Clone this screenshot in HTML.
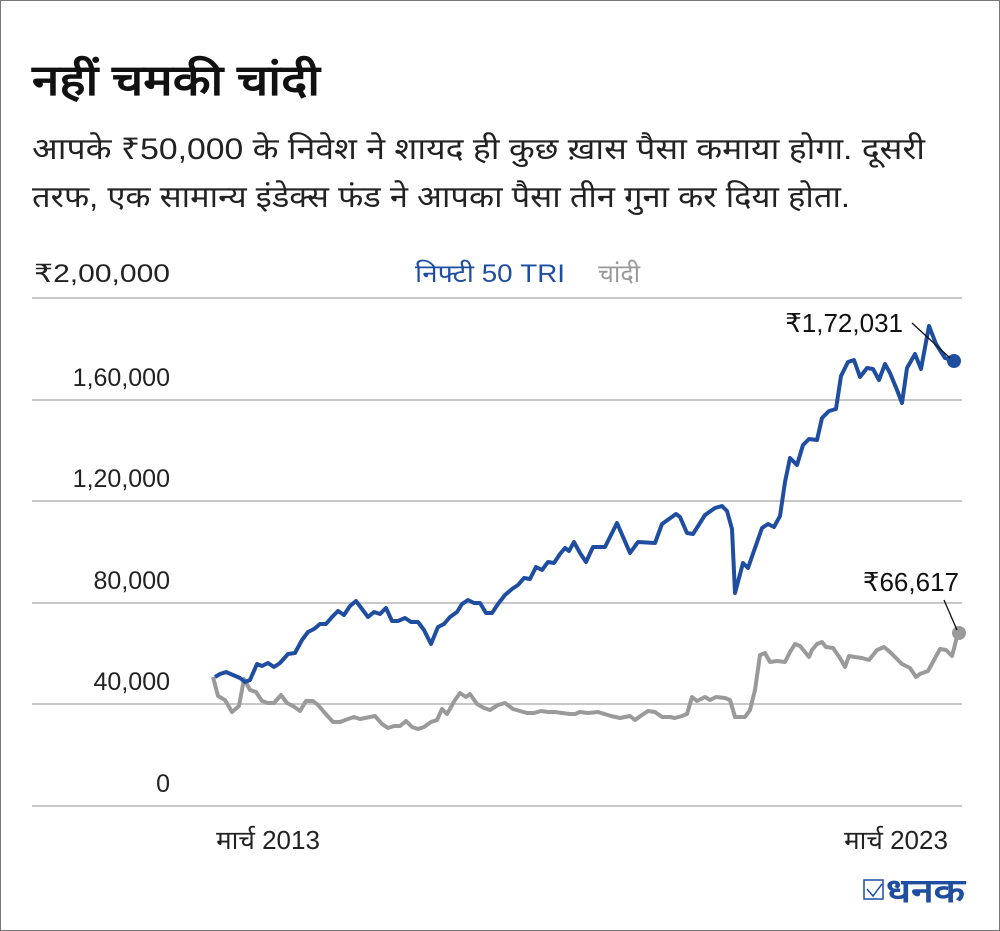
<!DOCTYPE html>
<html><head><meta charset="utf-8"><style>
body{margin:0;background:#fff;}
.w{position:relative;width:998px;height:929px;border:1px solid #777;background:#fff;font-family:"Liberation Sans","Noto Sans CJK SC",sans-serif;overflow:hidden;}
</style></head><body><div class="w">
<svg width="1000" height="931" style="position:absolute;left:-1px;top:-1px" font-family="Liberation Sans, sans-serif">
<text x="32" y="95" font-size="43" font-weight="bold" fill="#111" textLength="288" lengthAdjust="spacingAndGlyphs">नहीं चमकी चांदी</text>
<text x="32" y="159" font-size="30" fill="#222" textLength="893" lengthAdjust="spacingAndGlyphs">आपके ₹50,000 के निवेश ने शायद ही कुछ ख़ास पैसा कमाया होगा. दूसरी</text>
<text x="32" y="207" font-size="30" fill="#222" textLength="818" lengthAdjust="spacingAndGlyphs">तरफ, एक सामान्य इंडेक्स फंड ने आपका पैसा तीन गुना कर दिया होता.</text>
<g stroke="#c8c8c8" stroke-width="2">
<line x1="32" y1="298" x2="962" y2="298"/><line x1="32" y1="400" x2="962" y2="400"/>
<line x1="32" y1="501" x2="962" y2="501"/><line x1="32" y1="603" x2="962" y2="603"/>
<line x1="32" y1="704" x2="962" y2="704"/><line x1="32" y1="806" x2="962" y2="806"/>
</g>
<g font-size="25" fill="#222" text-anchor="end">
<text x="170" y="282" textLength="136" lengthAdjust="spacingAndGlyphs">₹2,00,000</text><text x="170" y="386">1,60,000</text>
<text x="170" y="487">1,20,000</text><text x="170" y="589">80,000</text>
<text x="170" y="690">40,000</text><text x="170" y="792">0</text>
</g>
<text x="268" y="849" font-size="26" fill="#222" text-anchor="middle">मार्च 2013</text>
<text x="896" y="849" font-size="26" fill="#222" text-anchor="middle">मार्च 2023</text>
<text x="415" y="282" font-size="25" fill="#1f4ea1" textLength="150" lengthAdjust="spacingAndGlyphs">निफ्टी 50 TRI</text>
<text x="598" y="282" font-size="25" fill="#999">चांदी</text>
<polyline fill="none" stroke="#9a9a9a" stroke-width="4" stroke-linejoin="round" points="213,677 218,696 225,700 232,712 239,706 244,679 250,690 256,692 262,701 268,703 274,703 281,695 287,703 293,706 300,711 306,701 313,701 318,705 324,712 333,722 340,722 348,719 354,717 360,719 370,717 375,716 382,724 388,728 394,726 400,726 406,721 412,727 418,729 424,727 431,722 437,720 442,709 447,714 455,700 460,693 466,697 470,694 477,704 484,708 490,710 498,705 505,703 513,709 520,711 527,713 534,713 541,711 548,712 555,712 562,713 570,714 575,714 580,712 588,713 598,712 611,716 620,718 630,716 635,720 642,715 648,711 655,712 662,717 670,717 675,718 682,716 687,714 692,697 697,701 705,697 710,700 716,697 725,698 730,700 735,717 745,717 750,710 755,690 760,655 765,653 770,662 777,661 785,662 790,652 795,644 800,646 805,652 809,657 812,650 817,644 822,642 826,647 833,648 840,658 845,667 849,656 855,657 862,658 869,660 877,650 884,647 890,652 896,658 902,664 910,668 916,677 920,674 928,671 934,660 940,649 946,650 952,656 958,633"/>
<polyline fill="none" stroke="#1f4ea1" stroke-width="4" stroke-linejoin="round" points="215,677 220,674 226,672 233,675 240,678 245,682 250,680 257,664 262,666 268,663 274,667 280,663 288,654 295,653 302,640 308,632 314,629 320,624 326,624 332,617 338,611 344,615 350,606 356,601 362,609 368,617 374,612 380,614 386,608 392,621 398,621 405,618 411,622 418,622 424,630 431,644 438,627 444,624 450,617 457,612 462,604 468,600 474,603 480,603 486,613 492,613 498,604 505,595 512,589 518,585 524,578 530,579 536,567 542,570 548,562 554,563 560,554 565,548 569,551 574,542 580,553 586,562 593,547 605,547 617,523 630,553 638,542 655,543 662,524 676,514 680,517 687,533 693,534 705,515 715,508 722,506 727,511 732,529 735,593 743,563 748,568 755,548 762,528 768,524 774,527 780,516 785,482 790,458 797,465 803,445 809,439 817,440 822,418 829,411 836,409 841,376 848,362 854,360 860,377 867,368 873,369 879,380 885,364 890,373 897,390 902,403 907,368 915,354 921,369 929,326 936,344 945,358 954,361"/>
<circle cx="954" cy="361" r="7" fill="#1f4ea1"/>
<circle cx="959" cy="633" r="7" fill="#9a9a9a"/>
<line x1="912" y1="323" x2="950" y2="358" stroke="#111" stroke-width="1.3"/>
<line x1="944" y1="600" x2="957" y2="630" stroke="#111" stroke-width="1.3"/>
<text x="903" y="332" font-size="26" fill="#111" text-anchor="end">₹1,72,031</text>
<text x="959" y="591" font-size="26" fill="#111" text-anchor="end">₹66,617</text>
<rect x="864" y="880" width="19" height="19" fill="none" stroke="#1f4ea1" stroke-width="1.5"/>
<polyline points="867,889 873,896 882,884" fill="none" stroke="#1f4ea1" stroke-width="1.5"/>
<text x="886" y="902" font-size="33" font-weight="bold" fill="#1f4ea1" textLength="79" lengthAdjust="spacingAndGlyphs">धनक</text>
</svg>
</div></body></html>
